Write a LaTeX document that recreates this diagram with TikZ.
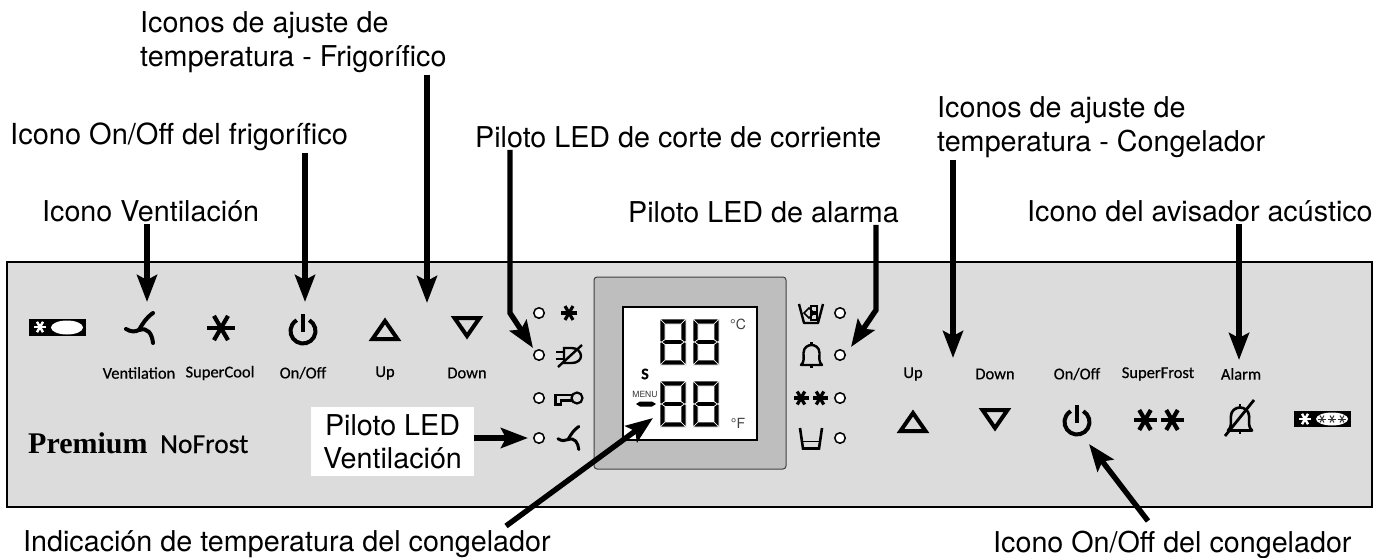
\documentclass[tikz,border=0pt]{standalone}
\usepackage{fontspec}
\setmainfont{TeX Gyre Heros}
\newfontfamily\panelfont[RawFeature={embolden=0.5}]{Carlito}
\newfontfamily\brandfont{Liberation Serif}
\usepackage{xcolor}
\usetikzlibrary{positioning,arrows.meta,calc}
\definecolor{panelgray}{HTML}{DCDCDC}
\definecolor{framegray}{HTML}{BEBEBE}

\tikzset{
  pics/flake/.style={code={
    \foreach \a in {0,60,120}{
      \draw ({\a}:#1) -- ({\a+180}:#1);
    }
  }},
  pics/powericon/.style={code={
    \draw (300:12.5) arc (300:600:12.5);
    \draw (0,-17) -- (0,1);
  }},
  pics/fanicon/.style={code={
    \draw[line cap=round] (14,-15) .. controls (7,-10) and (4,-5) .. (0,2);
    \draw[line cap=round] (-13,1) .. controls (-8,4) and (-4,4) .. (0,2);
    \draw[line cap=round] (0,2) .. controls (9,-1) and (13,6) .. (14,15);
  }},
  pics/bellicon/.style={code={
    \draw[line join=round] (-10.5,10) .. controls (-7,7) and (-8,3) .. (-8,-2)
       .. controls (-8,-8) and (-3,-10) .. (0,-10)
       .. controls (3,-10) and (8,-8) .. (8,-2)
       .. controls (8,3) and (7,7) .. (10.5,10) -- cycle;
    \draw (0,-13) -- (0,-10);
    \draw (0,10) -- (0,13);
  }},
  pics/seggroup/.style={code={
    % top, bottom and middle bars, then the four sides
    \draw[segfill] (0,0) -- (26,0) -- (21,5) -- (5,5) -- cycle;
    \draw[segfill] (0,46) -- (26,46) -- (21,41) -- (5,41) -- cycle;
    \draw[segfill] (1.5,23) -- (5,20.5) -- (21,20.5) -- (24.5,23) -- (21,25.5) -- (5,25.5) -- cycle;
    \draw[segfill] (0,0) -- (5,5) -- (5,20.5) -- (1.5,23) -- (0,22.5) -- cycle;
    \draw[segfill] (26,0) -- (21,5) -- (21,20.5) -- (24.5,23) -- (26,22.5) -- cycle;
    \draw[segfill] (0,46) -- (5,41) -- (5,25.5) -- (1.5,23) -- (0,23.5) -- cycle;
    \draw[segfill] (26,46) -- (21,41) -- (21,25.5) -- (24.5,23) -- (26,23.5) -- cycle;
  }}
}

\begin{document}
\begin{tikzpicture}[
  x=1pt, y=-1pt,
  callout/.style={font=\fontsize{28.7}{33.5}\selectfont, align=left, anchor=west, inner sep=2pt},
  paneltext/.style={font=\panelfont\fontsize{16.5}{20}\selectfont, inner sep=0pt},
  arr/.style={-{Stealth[length=27pt,width=20pt,inset=5pt]}, line width=5.4pt},
  led/.style={draw, circle, fill=white, line width=1.5pt, minimum size=10.5pt, inner sep=0pt},
  segfill/.style={fill=black, draw=white, line width=0.6pt, line join=round},
  tri/.style={line width=4pt, line join=miter}
]
\useasboundingbox (0,0) rectangle (1388,557);

% ---- Column positions ----
\def\xLedL{539}   % left led col
\def\xLedR{840}   % right led col
\def\yA{313}
\def\yB{355}
\def\yC{398}
\def\yD{438}

% ---- Panel ----
\draw[fill=panelgray, line width=2.4pt] (7,262) rectangle (1372,507);

% ---- Display ----
\draw[fill=framegray, draw=black!75, line width=1pt, rounded corners=3pt] (594,277) rectangle (786,469);
\draw[fill=white, line width=1.3pt] (623,307) rectangle (757,440);
\foreach \dx/\dy in {660/319,693/319,660/381,693/381}{
  \pic at (\dx,\dy) {seggroup};
}
\node[font=\fontsize{14}{16}\selectfont, text=black!75, inner sep=0pt] (degc) at (738,324) {°C};
\node[font=\fontsize{14}{16}\selectfont, text=black!75, inner sep=0pt] (degf) at (738,423) {°F};
\node[font=\panelfont\bfseries\fontsize{16}{18}\selectfont, inner sep=0pt] (sflag) at (645,374) {S};
\node[font=\fontsize{8.5}{11}\selectfont, text=black!80, inner sep=0pt] (menu) at (645,394) {MENU};
\fill (636,404) -- (640,401.5) -- (652,401.5) -- (656,404) -- (652,406.5) -- (640,406.5) -- cycle;

% ---- Fridge icon row ----
\fill (29,319) rectangle (86,336);
\pic[white, line width=2.4pt] at (40,327) {flake=6};
\fill[white] (67,327.5) ellipse (16 and 7);
\pic[line width=4pt] at (139,328) {fanicon};
\pic[line width=4.2pt] at (221,328) {flake=14};
\pic[line width=4pt] at (303,331) {powericon};
\draw[tri] (385,321) -- (372.5,339) -- (397.5,339) -- cycle;
\draw[tri] (467,336) -- (454.5,318) -- (479.5,318) -- cycle;

\node[paneltext] (ventlbl) at (139,373) {Ventilation};
\node[paneltext] (coollbl) at (220,373) {SuperCool};
\node[paneltext] (onlbl)   at (303,373) {On/Off};
\node[paneltext] (uplbl)   at (385,373) {Up};
\node[paneltext] (downlbl) at (467,373) {Down};

% ---- Brand ----
\node[font=\brandfont\bfseries\fontsize{30}{32}\selectfont, anchor=base west, inner sep=0pt] (premium) at (28,453) {Premium};
\node[font=\panelfont\fontsize{27.5}{30}\selectfont, anchor=base west, inner sep=0pt] (nofrost) at (160,453) {NoFrost};

% ---- Leds ----
\node[led] (ledLa) at (\xLedL,\yA) {};
\node[led] (ledLb) at (\xLedL,\yB) {};
\node[led] (ledLc) at (\xLedL,\yC) {};
\node[led] (ledLd) at (\xLedL,\yD) {};
\node[led] (ledRa) at (\xLedR,\yA) {};
\node[led] (ledRb) at (\xLedR,\yB) {};
\node[led] (ledRc) at (\xLedR,\yC) {};
\node[led] (ledRd) at (\xLedR,\yD) {};

% ---- Left led icons ----
\pic[line width=3.2pt] at (569,313) {flake=8};
% unplugged
\draw[line width=2.4pt] (564,348) -- (572,348) .. controls (577,348) and (581,352) .. (581,356)
   .. controls (581,360) and (577,363) .. (572,363) -- (564,363) -- cycle;
\draw[line width=2.4pt] (556,352) -- (564,352);
\draw[line width=2.4pt] (556,359) -- (564,359);
\draw[line width=2.4pt] (558,367) -- (582,345);
% key
\draw[line width=2.2pt] (577,398) circle (5.5);
\draw[line width=2.2pt] (571.5,395) -- (555.5,395) -- (555.5,404.5) -- (561,404.5) -- (561,400.5) -- (571.5,400.5);
\pic[scale=.77, line width=3pt] at (568,438) {fanicon};

% ---- Right led icons ----
% basket with ice
\draw[line width=2.4pt, line join=round] (799,304) -- (804,323) -- (818,323) -- (823,304);
\draw[line width=1.5pt] (804,313) -- (809,308) -- (814,313) -- (809,318) -- cycle;
\draw[line width=1.5pt] (811,306) rectangle (817,312);
\draw[line width=1.5pt] (811,314) rectangle (817,320);
\pic[line width=2.4pt] at (811.5,355) {bellicon};
\pic[line width=3.2pt] at (801,398) {flake=7.5};
\pic[line width=3.2pt] at (820,398) {flake=7.5};
% cup
\draw[line width=2.6pt] (800,428) -- (803,448.5) -- (819,448.5) -- (822,428);
\draw[line width=1pt] (801.5,441) -- (820.5,441);

% ---- Freezer icon row ----
\node[paneltext] (upflbl)    at (913,374) {Up};
\node[paneltext] (downflbl)  at (995,374) {Down};
\node[paneltext] (onflbl)    at (1077,374) {On/Off};
\node[paneltext] (frostlbl)  at (1158,374) {SuperFrost};
\node[paneltext] (alarmlbl)  at (1241,374) {Alarm};

\draw[tri] (913,413) -- (900.5,431) -- (925.5,431) -- cycle;
\draw[tri] (995,428) -- (982.5,410) -- (1007.5,410) -- cycle;
\pic[line width=4pt] at (1077,422) {powericon};
\pic[line width=4.2pt] at (1145,420) {flake=11.5};
\pic[line width=4.2pt] at (1172,420) {flake=11.5};
\pic[line width=2.6pt, scale=1.15] at (1240,419) {bellicon};
\draw[line width=2.8pt] (1225,436) -- (1254,400);

\fill (1294,411) rectangle (1351,427);
\pic[white, line width=2.4pt] at (1305,419) {flake=6};
\fill[white] (1332,419) ellipse (16 and 6.5);
\foreach \sx in {1322,1332,1342}{
  \pic[black!80, line width=1pt] at (\sx,419) {flake=4};
}

% ---- Callouts ----
\node[callout] (lblfrigtemp) at (138,42)  {Iconos de ajuste de\\temperatura - Frigorífico};
\node[callout] (lblfrigon)   at (8,136.5) {\fontsize{29}{34}\selectfont Icono On/Off del frigorífico};
\node[callout] (lblfan)      at (40,211)  {Icono Ventilación};
\node[callout] (lblcut)      at (473,137) {Piloto LED de corte de corriente};
\node[callout] (lblalarm)    at (626,212) {Piloto LED de alarma};
\node[callout] (lblcongtemp) at (935,127) {Iconos de ajuste de\\temperatura - Congelador};
\node[callout] (lblbuzzer)   at (1025,211.5) {Icono del avisador acústico};
\node[callout] (lbldisplay)  at (21,544.5)  {Indicación de temperatura del congelador};
\node[callout] (lblcongon)   at (991,544.5) {Icono On/Off del congelador};
\node[fill=white, font=\fontsize{28.7}{33}\selectfont, align=center, minimum width=163pt, minimum height=69pt, inner sep=0pt] (lblledfan) at (392.5,441.5) {Piloto LED\\Ventilación};

% ---- Arrow ends ----
\coordinate (tipfan)  at (147,302);
\coordinate (tipon)   at (305,302);
\coordinate (tipfrig) at (427,303);
\coordinate (tipcut)  at (533,348);
\coordinate (tipal)   at (851,347);
\coordinate (tipcong) at (953,358);
\coordinate (tipbuzz) at (1239,360);
\coordinate (tipdisp) at (653,418);
\coordinate (tailcut) at (510,313);
\coordinate (tailal)  at (876,310);
\coordinate (taildisp) at (506,526);
\coordinate (tailcon)  at (1148,521);
\coordinate (tipcon)   at (1089,444);

% ---- Arrows ----
\draw[arr] (lblfan.south -| tipfan) -- (tipfan);
\draw[arr] (lblfrigon.south -| tipon) -- (tipon);
\draw[arr] (lblfrigtemp.south -| tipfrig) -- (tipfrig);
\draw[arr] (lblcut.south -| tailcut) -- (tailcut) -- (tipcut);
\draw[arr] (lblalarm.south -| tailal) -- (tailal) -- (tipal);
\draw[arr] (lblcongtemp.south -| tipcong) -- (tipcong);
\draw[arr] (lblbuzzer.south -| tipbuzz) -- (tipbuzz);
\draw[arr, shorten >=5pt] (lblledfan.east |- ledLd) -- (ledLd.west);
\draw[arr] (taildisp) -- (tipdisp);
\draw[arr] (tailcon) -- (tipcon);

\end{tikzpicture}
\end{document}
